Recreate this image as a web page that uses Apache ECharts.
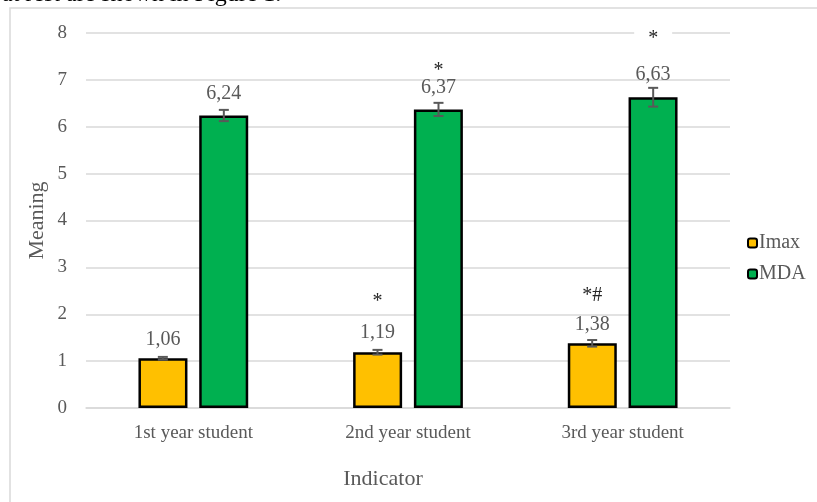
<!DOCTYPE html>
<html><head><meta charset="utf-8">
<script src="https://cdn.jsdelivr.net/npm/echarts@6/dist/echarts.min.js"></script>
<style>html,body{margin:0;padding:0;background:#fff}#c{width:817px;height:502px}</style>
</head><body><div id="c"></div>
<script>
const categories = ['1st year student', '2nd year student', '3rd year student'];
const imax = [1.06, 1.19, 1.38];
const mda = [6.24, 6.37, 6.63];
const imaxErr = [0.03, 0.05, 0.07];
const mdaErr = [0.12, 0.14, 0.2];
const imaxSig = ['', '*', '*#'];
const mdaSig = ['', '*', '*'];
const yTicks = [0, 1, 2, 3, 4, 5, 6, 7, 8];

const FONT = '"Liberation Serif", "DejaVu Serif", serif';
const GREY = '#595959';
const fmt = v => String(v.toFixed(2)).replace('.', ',');

// pixel offsets of significance marks above the bar tops (layout only)
const imaxSigOffset = [0, 50, 48];
const mdaSigOffset = [0, 39, 58];

const chart = echarts.init(document.getElementById('c'), null, {renderer: 'canvas'});

function errSeries(vals, errs, idx) {
  return {
    type: 'custom',
    z: 5,
    data: vals.map((v, i) => [i, v, errs[i]]),
    renderItem: function (params, api) {
      const i = api.value(0), v = api.value(1), e = api.value(2);
      const bw = 49, gap = 12;
      const c = api.coord([i, v]);
      const x = c[0] + (idx === 0 ? -(bw + gap) / 2 : (bw + gap) / 2);
      const yHi = api.coord([i, v + e])[1];
      const yLo = api.coord([i, v - e])[1];
      const cap = 5;
      const st = {stroke: GREY, lineWidth: 2};
      return {type: 'group', children: [
        {type: 'line', shape: {x1: x, y1: yHi, x2: x, y2: yLo}, style: st},
        {type: 'line', shape: {x1: x - cap, y1: yHi, x2: x + cap, y2: yHi}, style: st},
        {type: 'line', shape: {x1: x - cap, y1: yLo, x2: x + cap, y2: yLo}, style: st}
      ]};
    }
  };
}

function sigSeries(vals, sigs, offs, idx) {
  return {
    type: 'custom',
    z: 6,
    data: vals.map((v, i) => [i, v]),
    renderItem: function (params, api) {
      const i = api.value(0), v = api.value(1);
      const s = sigs[i];
      if (!s) return null;
      const c = api.coord([i, v]);
      const x = c[0] + (idx === 0 ? -30.5 : 30.5);
      const y = c[1] - offs[i];
      const bg = (idx === 1 && i === 2);
      return {type: 'text', x: x, y: y, style: {
        text: s, fill: '#262626', font: '20px ' + FONT, align: 'center', verticalAlign: 'middle',
        backgroundColor: bg ? '#fff' : null, padding: bg ? [2, 14] : 0
      }};
    }
  };
}

const option = {
  animation: false,
  backgroundColor: '#fff',
  textStyle: {fontFamily: FONT},
  graphic: [
    {type: 'rect', shape: {x: 10, y: 8, width: 830, height: 520}, style: {fill: 'none', stroke: '#d9d9d9', lineWidth: 1.5}, z: -10},
    {type: 'text', x: 2, y: -17, style: {text: 'at rest are shown in Figure 1.', fill: '#000', font: '24px ' + FONT, align: 'left', verticalAlign: 'top'}}
  ],
  grid: {left: 86, right: 87, top: 33, bottom: 94},
  legend: {
    orient: 'vertical', left: 742, top: 228, itemWidth: 9, itemHeight: 9, itemGap: 11,
    data: ['Imax', 'MDA'],
    textStyle: {fontFamily: FONT, fontSize: 20, color: GREY, padding: [0, 0, 0, -3]}
  },
  xAxis: {
    type: 'category', data: categories,
    name: 'Indicator', nameLocation: 'middle', nameGap: 60,
    nameTextStyle: {fontFamily: FONT, fontSize: 22, color: GREY, padding: [0, 50, 0, 0]},
    axisLine: {lineStyle: {color: '#d9d9d9', width: 1.5}},
    axisTick: {show: false},
    axisLabel: {fontFamily: FONT, fontSize: 19, color: GREY, margin: 16}
  },
  yAxis: {
    type: 'value', min: yTicks[0], max: yTicks[yTicks.length - 1], interval: 1,
    name: 'Meaning', nameLocation: 'middle', nameGap: 38, nameMoveOverlap: false,
    nameTextStyle: {fontFamily: FONT, fontSize: 22, color: GREY},
    axisLine: {show: false}, axisTick: {show: false},
    axisLabel: {fontFamily: FONT, fontSize: 19, color: GREY, margin: 19},
    splitLine: {lineStyle: {color: '#d9d9d9', width: 1.5}}
  },
  series: [
    {name: 'Imax', type: 'bar', data: imax, barWidth: 49, barGap: '24%',
     itemStyle: {color: '#FFC000', borderColor: '#000', borderWidth: 2.5},
     label: {show: true, position: 'top', distance: 9, formatter: p => fmt(p.value),
             fontFamily: FONT, fontSize: 20, color: GREY}},
    {name: 'MDA', type: 'bar', data: mda, barWidth: 49,
     itemStyle: {color: '#00B050', borderColor: '#000', borderWidth: 2.5},
     label: {show: true, position: 'top', distance: 12, formatter: p => fmt(p.value),
             fontFamily: FONT, fontSize: 20, color: GREY}},
    errSeries(imax, imaxErr, 0),
    errSeries(mda, mdaErr, 1),
    sigSeries(imax, imaxSig, imaxSigOffset, 0),
    sigSeries(mda, mdaSig, mdaSigOffset, 1)
  ]
};
chart.setOption(option);
</script></body></html>
